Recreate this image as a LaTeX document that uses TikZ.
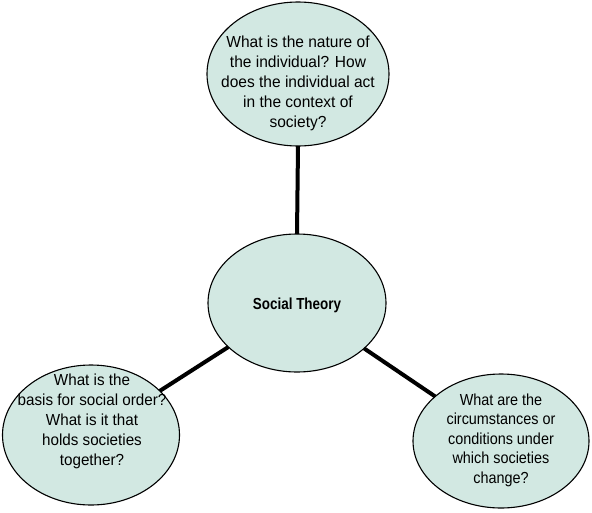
\documentclass[tikz,border=0pt]{standalone}
\usepackage{fontspec}
\setmainfont{Liberation Sans}
\newfontfamily\topqfont{Liberation Sans}[FakeStretch=0.97]
\newfontfamily\blqfont{Liberation Sans}[FakeStretch=0.95]
\newfontfamily\narrowqfont{Liberation Sans}[FakeStretch=0.9]
\newfontfamily\titlefont{Liberation Sans}[FakeStretch=0.84]
\usetikzlibrary{shapes.geometric}
\definecolor{mint}{HTML}{D2E8E2}
\begin{document}
\begin{tikzpicture}[x=1pt,y=-1pt,
  bubble/.style={ellipse,draw=black,line width=1.1pt,fill=mint,inner sep=0pt,outer sep=0pt},
  qtext/.style={align=center,inner sep=0pt},
  link/.style={line width=4pt,black}]
\useasboundingbox (0,0) rectangle (592,512);
\node[bubble,minimum width=182pt,minimum height=144pt] (top) at (298,74) {};
\node[bubble,minimum width=178pt,minimum height=138pt] (mid) at (297,303) {};
\node[bubble,minimum width=177pt,minimum height=140pt] (bl) at (91,435) {};
\node[bubble,minimum width=176pt,minimum height=134pt] (br) at (501,441) {};
\draw[link] (top.south) -- (mid.north);
\draw[link] (mid) -- (bl);
\draw[link] (mid) -- (br);
\node[qtext,font=\topqfont\fontsize{16}{20}\selectfont] (toptxt) at (298,83) {What is the nature of\\the individual? How\\does the individual act\\in the context of\\society?};
\node[qtext,font=\titlefont\bfseries\fontsize{16}{20}\selectfont] (midtxt) at (297,305) {Social Theory};
\node[qtext,font=\blqfont\fontsize{16}{20}\selectfont] (bltxt) at (92,421) {What is the\\basis for social order?\\What is it that\\holds societies\\together?};
\node[qtext,font=\narrowqfont\fontsize{16}{19.5}\selectfont] (brtxt) at (501,440) {What are the\\circumstances or\\conditions under\\which societies\\change?};
\end{tikzpicture}
\end{document}
